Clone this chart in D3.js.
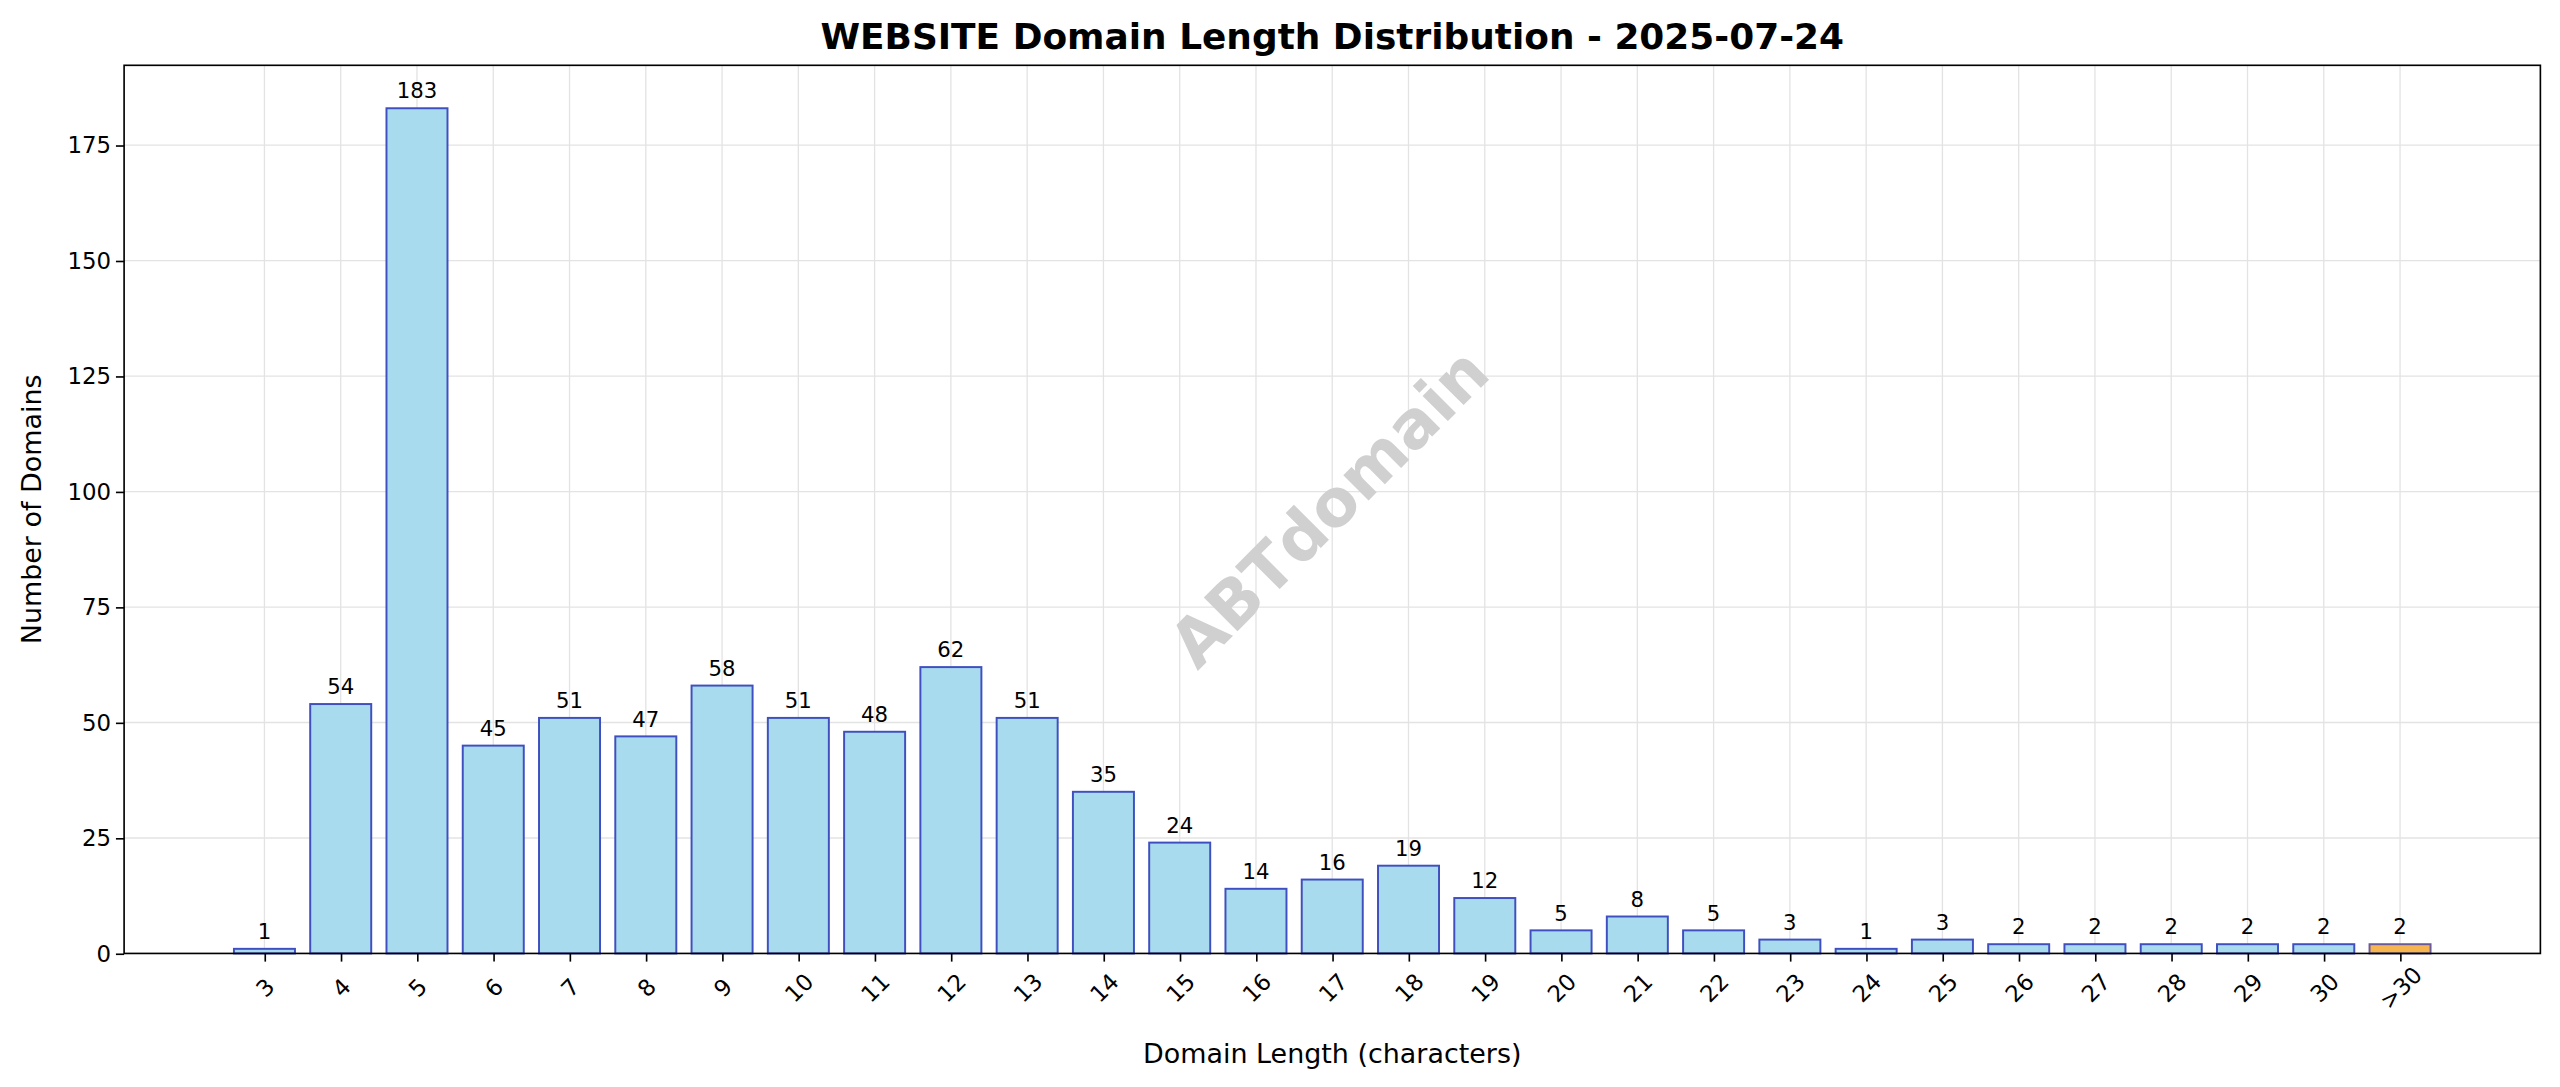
<!DOCTYPE html><html><head><meta charset="utf-8"><script src="https://cdn.jsdelivr.net/npm/d3@7"></script>
<style>body{margin:0;background:#fff}text{font-family:"DejaVu Sans",sans-serif}</style></head><body>
<svg id="c" width="2560" height="1087" viewBox="0 0 1568 665.8"></svg>
<script>
const categories=["3","4","5","6","7","8","9","10","11","12","13","14","15","16","17","18","19","20","21","22","23","24","25","26","27","28","29","30",">30"];
const values=[1,54,183,45,51,47,58,51,48,62,51,35,24,14,16,19,12,5,8,5,3,1,3,2,2,2,2,2,2];
const yTicks=[0,25,50,75,100,125,150,175];
const svg=d3.select("#c");
const L=76,R=1556,T=40,B=584;
const x=d3.scaleLinear().domain([-1.84,categories.length-1+1.84]).range([L,R]);
const y=d3.scaleLinear().domain([0,192.3]).range([B,T]);
const g=svg.append("g");
g.selectAll(".vg").data(categories).enter().append("line").attr("x1",(d,i)=>x(i)).attr("x2",(d,i)=>x(i)).attr("y1",T).attr("y2",B).attr("stroke","#e3e3e3").attr("stroke-width",0.8);
g.selectAll(".hg").data(yTicks).enter().append("line").attr("x1",L).attr("x2",R).attr("y1",d=>y(d)).attr("y2",d=>y(d)).attr("stroke","#e3e3e3").attr("stroke-width",0.8);
svg.append("text").attr("transform","translate(816,313) rotate(-45)").attr("text-anchor","middle").attr("dominant-baseline","middle").attr("font-size",40).attr("font-weight","bold").attr("fill","#d0d0d0").text("ABTdomain");
const bw=x(0.4)-x(-0.4);
g.selectAll(".bar").data(values).enter().append("rect").attr("x",(d,i)=>x(i)-bw/2).attr("width",bw).attr("y",d=>y(d)).attr("height",d=>B-y(d))
 .attr("fill",(d,i)=>i===values.length-1?"#f7b550":"#a8dbee").attr("stroke",(d,i)=>i===values.length-1?"#6a5a9a":"#3f4fbf").attr("stroke-width",1.2);
g.selectAll(".lbl").data(values).enter().append("text").attr("x",(d,i)=>x(i)).attr("y",d=>y(d)-6).attr("text-anchor","middle").attr("font-size",13).text(d=>d);
svg.append("rect").attr("x",L).attr("y",T).attr("width",R-L).attr("height",B-T).attr("fill","none").attr("stroke","#000").attr("stroke-width",1);
const ya=svg.append("g").attr("transform",`translate(${L},0)`).call(d3.axisLeft(y).tickValues(yTicks).tickSize(5).tickSizeOuter(0));
ya.select(".domain").remove();ya.selectAll("text").attr("font-size",14).attr("fill","#000").style("font-family","DejaVu Sans");
const xa=svg.append("g").attr("transform",`translate(0,${B})`).call(d3.axisBottom(x).tickValues(d3.range(categories.length)).tickFormat(i=>categories[i]).tickSize(5).tickSizeOuter(0));
xa.select(".domain").remove();
xa.selectAll("text").attr("font-size",14).attr("fill","#000").style("font-family","DejaVu Sans").attr("text-anchor","middle").attr("y",0).attr("dy","0.35em").attr("transform","translate(0,21) rotate(-45)");
svg.append("text").attr("x",(L+R)/2).attr("y",30).attr("text-anchor","middle").attr("font-size",22).attr("font-weight","bold").text("WEBSITE Domain Length Distribution - 2025-07-24");
svg.append("text").attr("x",(L+R)/2).attr("y",651).attr("text-anchor","middle").attr("font-size",16.5).text("Domain Length (characters)");
svg.append("text").attr("transform",`translate(25,${(T+B)/2}) rotate(-90)`).attr("text-anchor","middle").attr("font-size",16.5).text("Number of Domains");
</script></body></html>
